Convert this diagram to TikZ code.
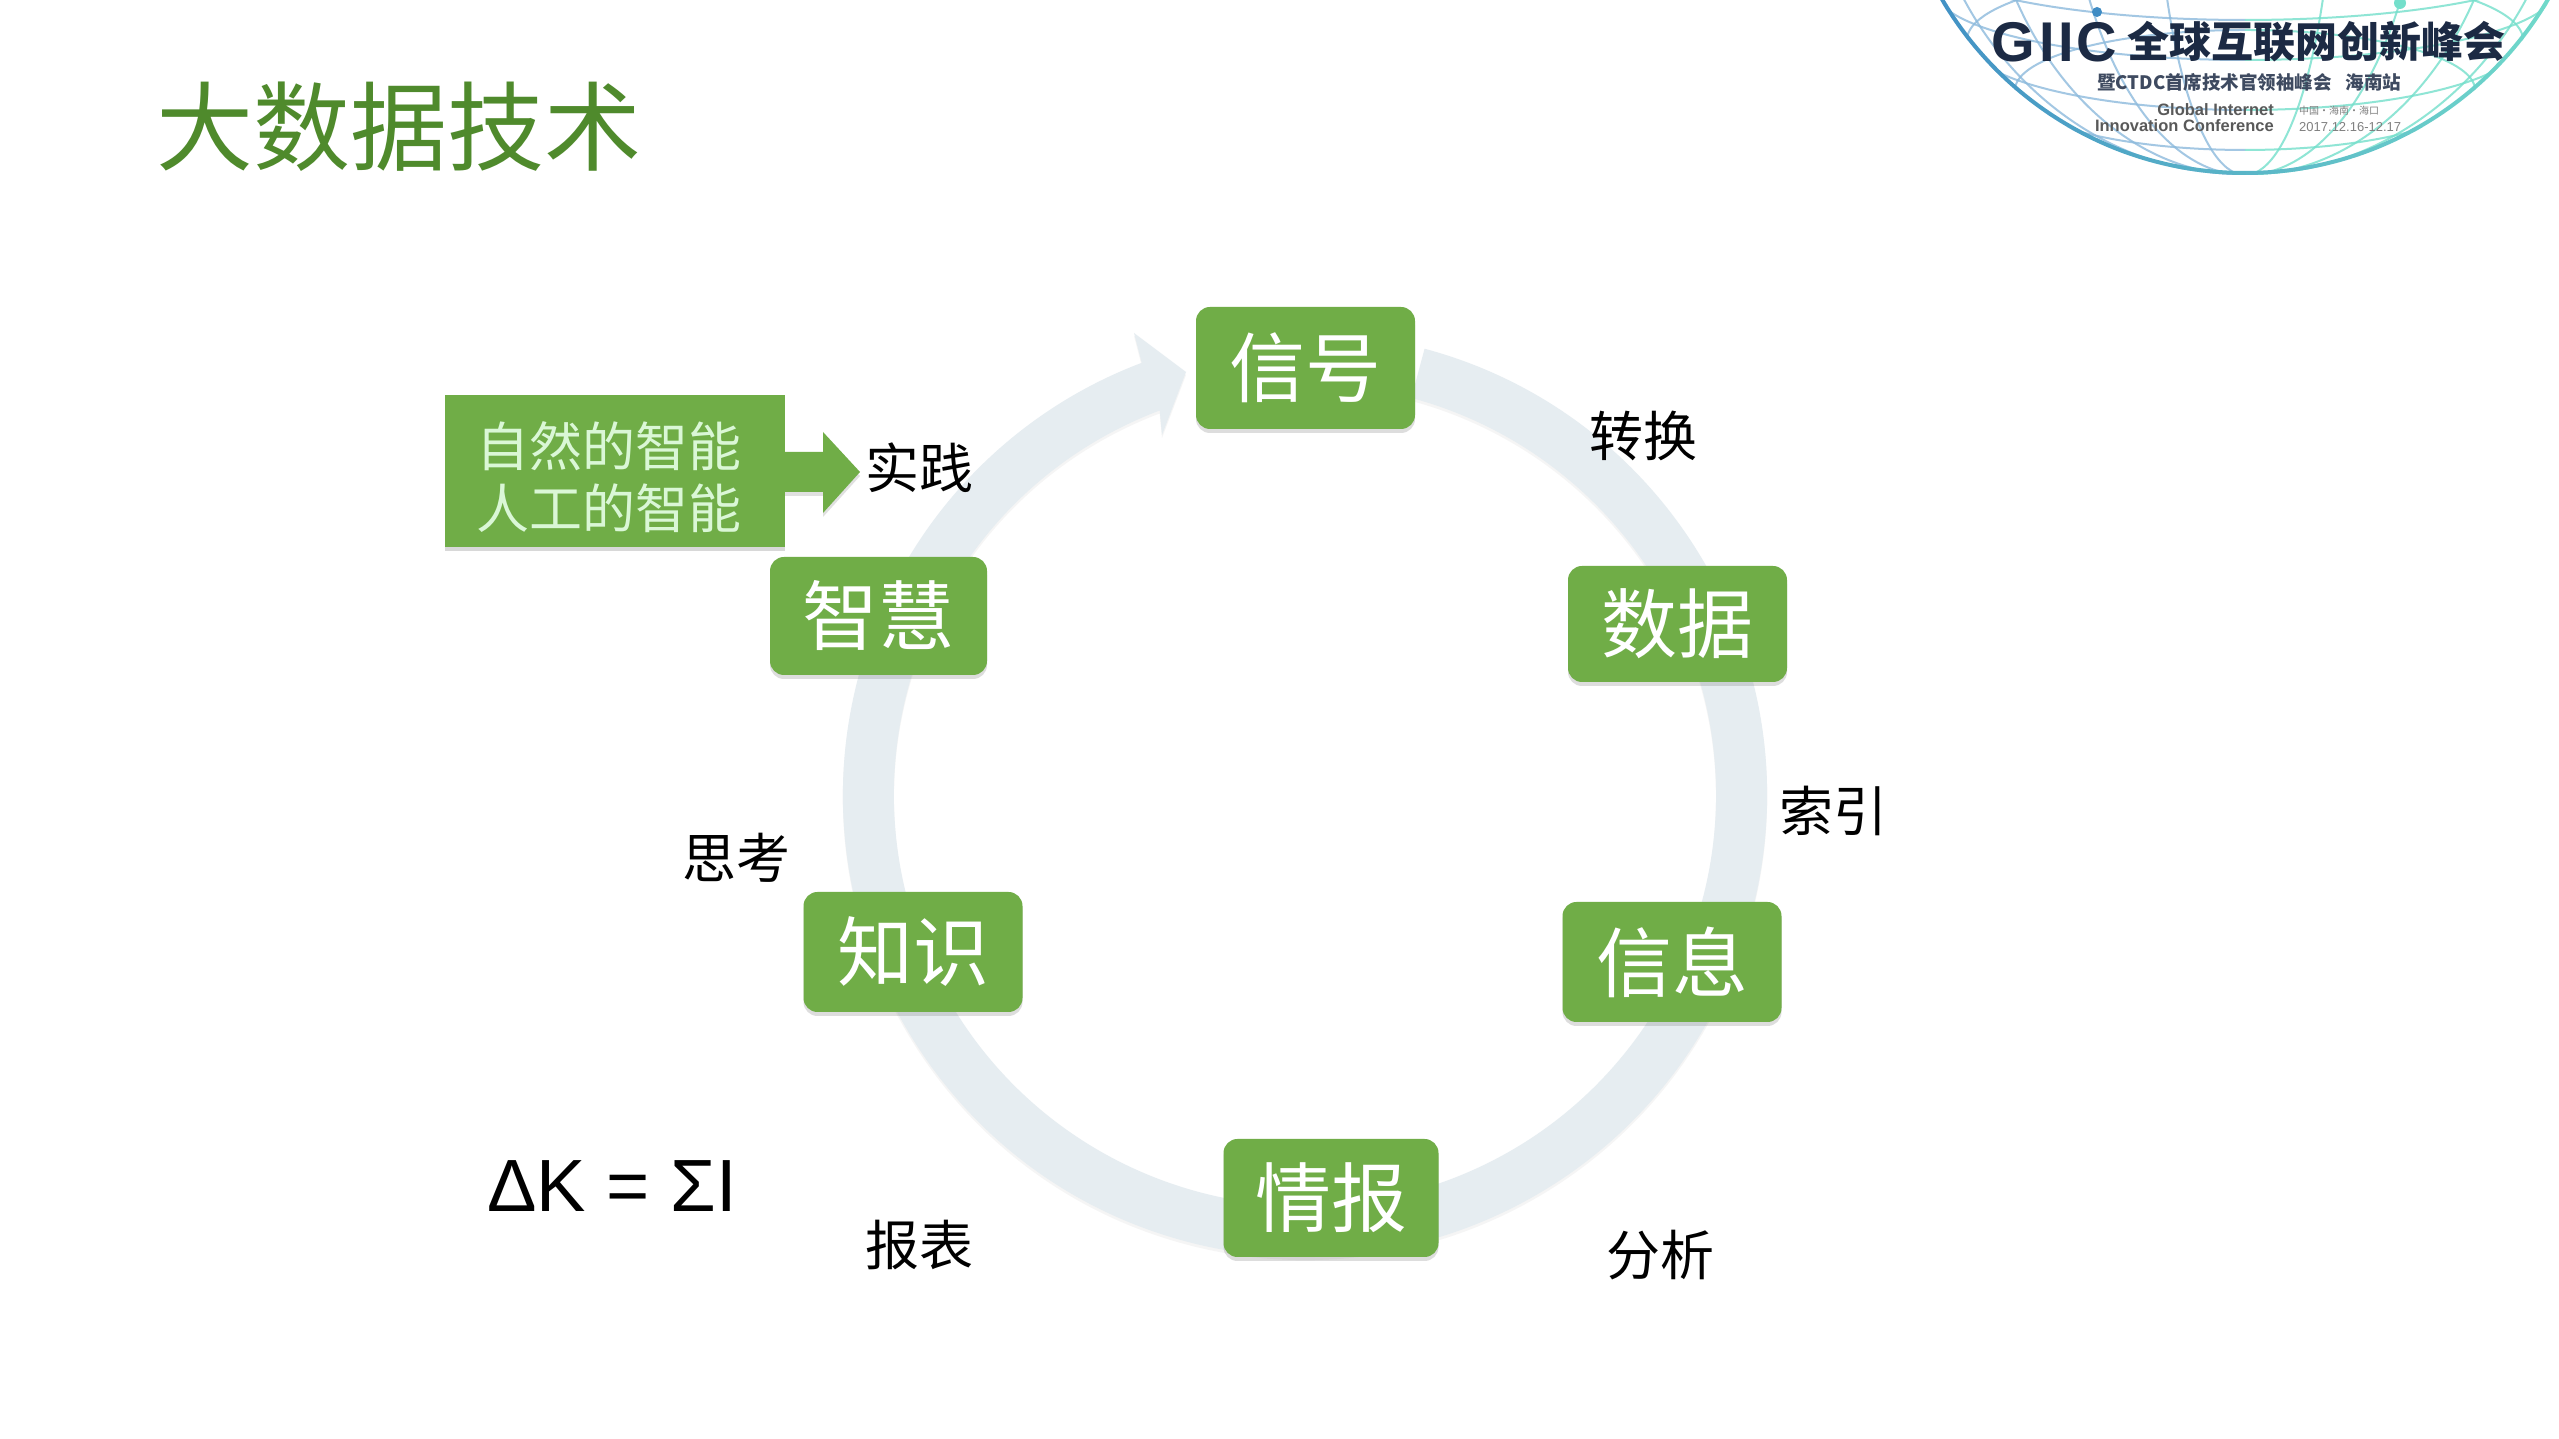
\documentclass[tikz,border=0pt]{standalone}
\usepackage{fontspec}
\setmainfont{Liberation Sans}
\newfontfamily\cjk{Noto Sans CJK SC}
\usetikzlibrary{shadows}
\definecolor{boxgreen}{HTML}{70AD47}
\definecolor{titlegreen}{HTML}{4F8A2C}
\definecolor{ringgrey}{HTML}{E6EDF1}
\definecolor{logodark}{HTML}{1C2A44}
\definecolor{globeblue}{HTML}{3F8CC4}
\definecolor{globeteal}{HTML}{74DFCB}
\newcommand{\fsz}[1]{\fontsize{#1}{#1}\selectfont}
\newcommand{\globelines}{%
  \foreach \rx in {90,180,265,325} {\draw (2245,1617) ellipse ({\rx} and 353);}
  \foreach \cy/\rx/\ry in {90/230/60,40/278/70,-10/310/70,-50/329/70} {\draw (2245,{1439-\cy}) ellipse ({\rx} and {\ry});}
}
\tikzset{
  stagebox/.style={fill=boxgreen,rounded corners=14pt,text=white,inner sep=0pt,font=\cjk\fsz{76},
    drop shadow={shadow xshift=0pt,shadow yshift=-4pt,opacity=.22,fill=black!60}},
  steplabel/.style={text=black,inner sep=0pt,font=\cjk\fsz{54}},
}
\begin{document}
\begin{tikzpicture}[x=1pt,y=1pt]
\useasboundingbox (0,0) rectangle (2559,1439);
\fill[white] (0,0) rectangle (2559,1439);
% ring
\fill[ringgrey,drop shadow={shadow xshift=0pt,shadow yshift=-3pt,opacity=.08,fill=black!50}]
  (1305,644) ++(75:462) arc[start angle=75,end angle=-249.3,radius=462]
  -- (1134,1106) -- (1186,1067) -- (1162,1004)
  -- (1159.7,1028.5)
  arc[start angle=-249.3,end angle=75,radius=411] -- cycle;
% title
\node[anchor=center,inner sep=0pt,text=titlegreen,font=\cjk\fsz{97}] (title) at (399,1312) {大数据技术};
% stages
\node[stagebox,minimum width=219pt,minimum height=122pt] (xinhao) at (1305.5,1071) {信号};
\node[stagebox,minimum width=219pt,minimum height=116pt] (shuju) at (1677.5,815) {数据};
\node[stagebox,minimum width=219pt,minimum height=120pt] (xinxi) at (1672,477) {信息};
\node[stagebox,minimum width=215pt,minimum height=118pt] (qingbao) at (1331,241) {情报};
\node[stagebox,minimum width=219pt,minimum height=120pt] (zhishi) at (913,487) {知识};
\node[stagebox,minimum width=217pt,minimum height=118pt] (zhihui) at (878.5,823) {智慧};
% intelligence box and arrow
\fill[boxgreen,drop shadow={shadow xshift=0pt,shadow yshift=-4pt,opacity=.2,fill=black!60}]
  (785,987) -- (823,987) -- (823,1007) -- (860,967) -- (823,926) -- (823,947) -- (785,947) -- cycle;
\node[fill=boxgreen,minimum width=340pt,minimum height=152pt,inner sep=0pt,anchor=center,
  drop shadow={shadow xshift=0pt,shadow yshift=-4pt,opacity=.25,fill=black!60}] (zr) at (615,968) {};
\node[inner sep=0pt,anchor=center,text=green!10!white!90!boxgreen,
  font=\cjk\fontsize{53}{62}\selectfont,align=center] (zrtext) at (609,962) {自然的智能\\人工的智能};
% labels
\node[steplabel] (l1) at (1643,1003) {转换};
\node[steplabel] (l2) at (1833,628) {索引};
\node[steplabel] (l3) at (1660,184) {分析};
\node[steplabel] (l4) at (919,194) {报表};
\node[steplabel] (l5) at (736,581) {思考};
\node[steplabel] (l6) at (919,971) {实践};
\node[inner sep=0pt,text=black,font=\fsz{74}] (formula) at (612,253) {ΔK = ΣI};
% logo globe
\begin{scope}
  \clip (0,0) rectangle (2559,1439);
  \begin{scope}
    \clip (2245,1617) circle (353);
    \begin{scope}[draw=globeblue!60,line width=2pt,opacity=.8]
      \clip (1800,1200) rectangle (2245,1439);
      \globelines
    \end{scope}
    \begin{scope}[draw=globeteal,line width=2pt,opacity=.8]
      \clip (2245,1200) rectangle (2600,1439);
      \globelines
    \end{scope}
    \fill[globeblue] (2097,1427) circle (5);
    \fill[globeteal] (2400,1436) circle (6);
    \shade[left color=globeblue,right color=globeteal,even odd rule]
      (2245,1617) circle (353) circle (349);
  \end{scope}
\end{scope}
\node[anchor=west,inner sep=0pt,text=logodark,font=\bfseries\fsz{56}] (giic) at (1991,1397) {G\kern5pt I\kern3pt I\kern3pt C};
\node[anchor=west,inner sep=0pt,text=logodark,font=\cjk\bfseries\fsz{42}] (giiccn) at (2127,1397) {全球互联网创新峰会};
\node[anchor=west,inner sep=0pt,text=logodark!85,font=\cjk\bfseries\fsz{18.5}] (giicsub) at (2097,1357) {暨CTDC首席技术官领袖峰会\hspace{14pt}海南站};
\node[anchor=east,inner sep=0pt,text=black!65,font=\bfseries\fsz{16.5}] (en1) at (2274,1329) {Global Internet};
\node[anchor=east,inner sep=0pt,text=black!65,font=\bfseries\fsz{16.5}] (en2) at (2274,1313) {Innovation Conference};
\node[anchor=west,inner sep=0pt,text=black!50,font=\cjk\fsz{10}] (place) at (2299,1328) {中国·海南·海口};
\node[anchor=west,inner sep=0pt,text=black!50,font=\fsz{13}] (date) at (2299,1312) {2017.12.16-12.17};
\end{tikzpicture}
\end{document}
